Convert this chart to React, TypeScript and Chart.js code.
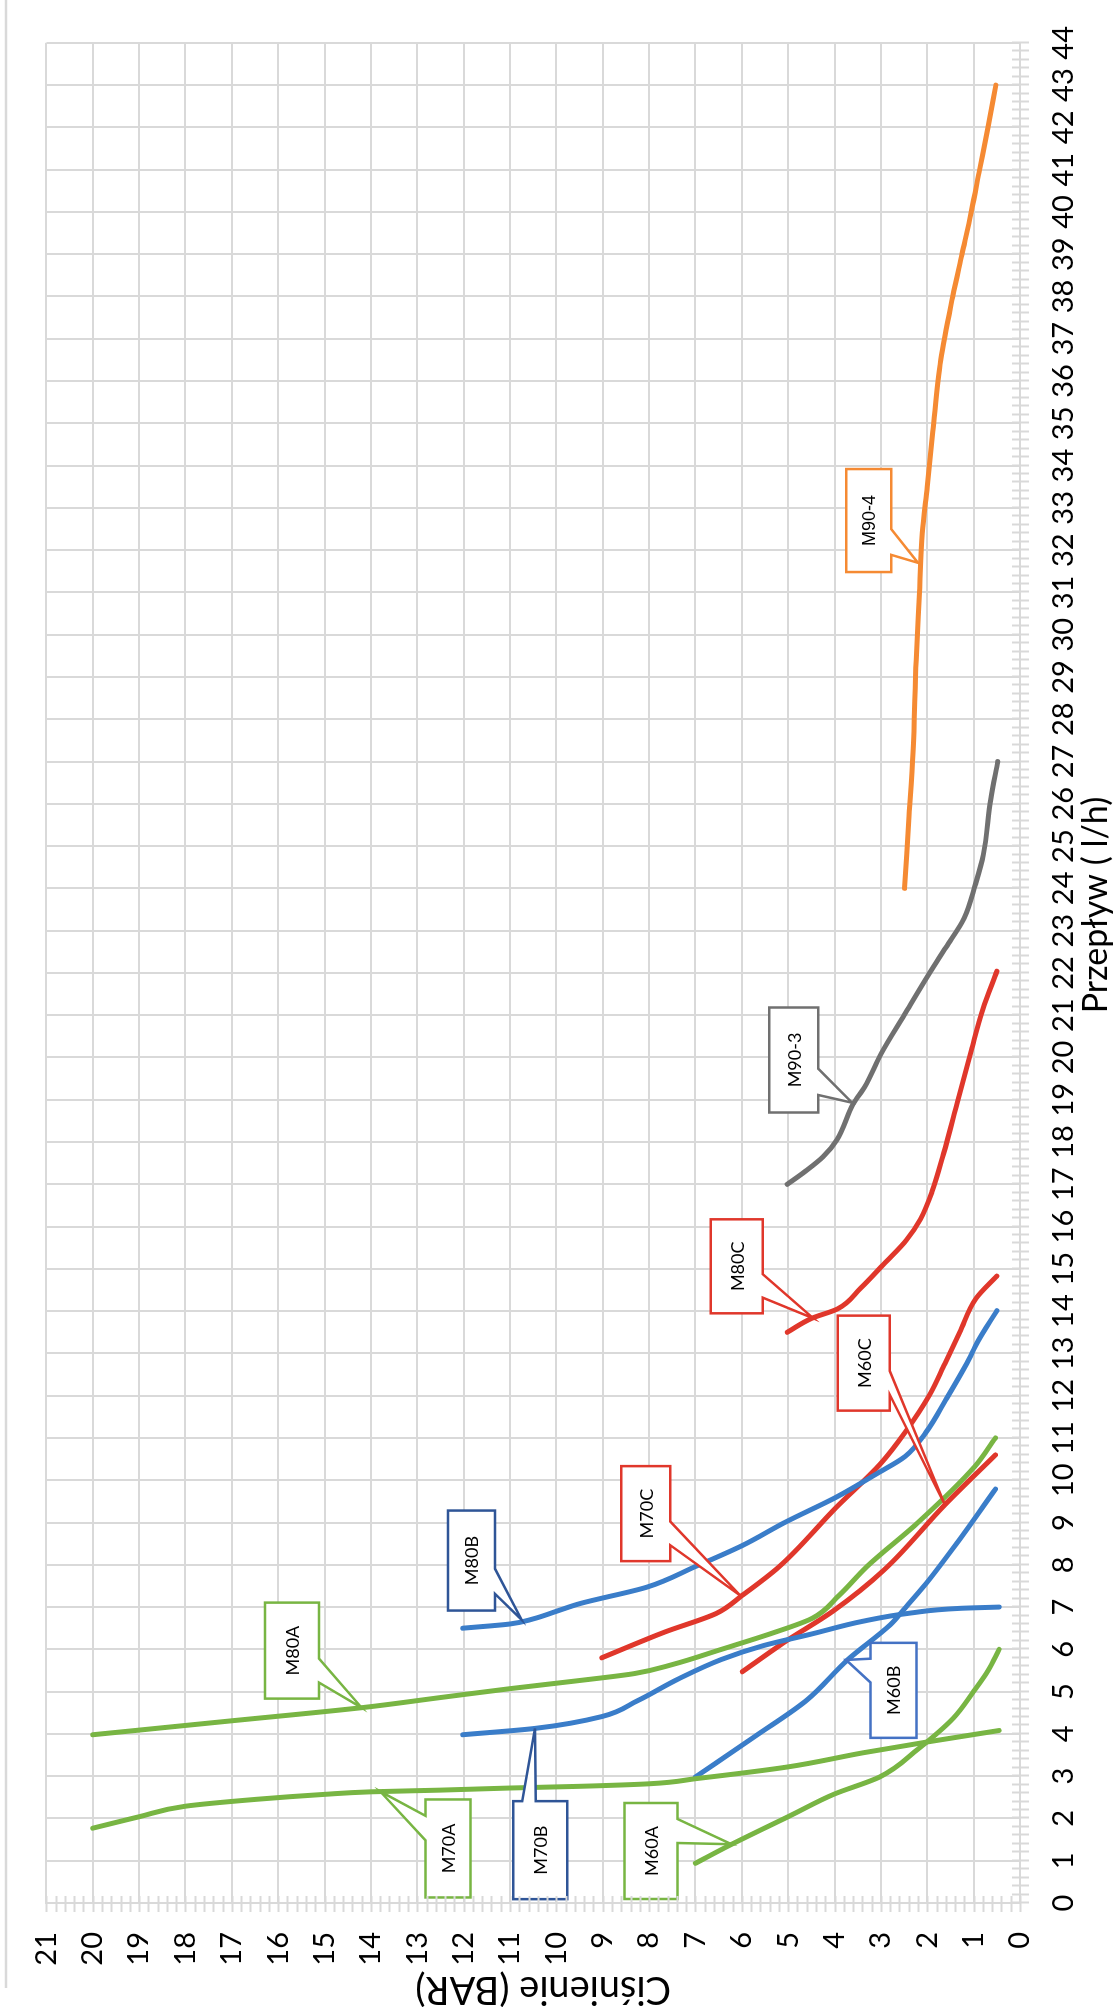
import React, { useEffect, useRef } from 'react';
import { Chart, registerables } from 'chart.js';

Chart.register(...registerables);

// ---------- axis ranges / ticks ----------
const FLOW_MIN = 0;
const FLOW_MAX = 44;
const PRES_MIN = 0;
const PRES_MAX = 21;
const X_TITLE = 'Przepływ ( l/h)';
const Y_TITLE = 'Ciśnienie (BAR)';

// ---------- series (flow l/h , pressure BAR) ----------
const M60A_FLOW = [0.94, 1.35, 2.08, 2.57, 2.98, 3.64, 4.37, 5.02, 5.51, 6.0];
const M60A_PRES = [7.0, 6.29, 4.93, 4.02, 3.03, 2.2, 1.44, 0.99, 0.68, 0.45];

const M70A_FLOW = [1.77, 2.04, 2.29, 2.45, 2.57, 2.63, 2.67, 2.72, 2.76, 2.82, 2.94, 3.22, 3.55, 3.8, 4.08];
const M70A_PRES = [20, 19, 18, 16.5, 15, 14, 12.5, 11, 9.5, 8, 7, 5, 3.4, 2.05, 0.45];

const M80A_FLOW = [3.98, 4.31, 4.62, 4.86, 5.07, 5.25, 5.43, 5.64, 6.0, 6.37, 6.74, 7.28, 7.96, 9.02, 10.32, 11.0];
const M80A_PRES = [20, 17, 14.2, 12.5, 11, 9.6, 8.3, 7.5, 6.44, 5.38, 4.47, 3.9, 3.3, 2.18, 0.98, 0.53];

const M60B_FLOW = [2.98, 3.96, 4.78, 5.76, 6.58, 6.95, 7.55, 8.53, 9.79];
const M60B_PRES = [7.0, 5.69, 4.62, 3.71, 2.8, 2.5, 2.03, 1.35, 0.53];

const M70B_FLOW = [3.98, 4.13, 4.41, 4.78, 5.31, 5.76, 6.09, 6.37, 6.66, 6.86, 6.97, 7.0];
const M70B_PRES = [12.02, 10.46, 9.02, 8.26, 7.35, 6.44, 5.53, 4.47, 3.41, 2.35, 1.29, 0.45];

const M80B_FLOW = [6.5, 6.6, 6.72, 6.9, 7.08, 7.47, 7.96, 8.45, 9.02, 9.59, 10.16, 10.56, 11.13, 11.94, 12.76, 13.3, 14.01];
const M80B_PRES = [12.02, 11.0, 10.5, 10.0, 9.5, 8.05, 7.0, 6.0, 5.04, 3.98, 3.08, 2.48, 2.03, 1.58, 1.15, 0.9, 0.5];

const M60C_FLOW = [5.47, 6.17, 6.9, 7.88, 9.42, 10.6];
const M60C_PRES = [5.99, 5.08, 4.04, 2.93, 1.62, 0.53];

const M70C_FLOW = [5.8, 6.41, 6.85, 7.27, 7.96, 9.34, 10.4, 11.13, 12.02, 12.76, 13.5, 14.3, 14.83];
const M70C_PRES = [9.02, 7.66, 6.55, 6.0, 5.19, 3.98, 3.0, 2.48, 1.95, 1.62, 1.3, 0.95, 0.5];

const M80C_FLOW = [13.5, 13.83, 14.05, 14.54, 15.11, 15.68, 16.17, 16.82, 17.72, 18.94, 20.17, 21.14, 22.04];
const M80C_PRES = [5.02, 4.49, 3.94, 3.44, 2.94, 2.45, 2.15, 1.9, 1.65, 1.35, 1.05, 0.8, 0.5];

const M903_FLOW = [17.0, 17.3, 17.65, 18.05, 18.9, 19.3, 20.1, 21.0, 22.0, 22.6, 23.3, 24.1, 24.8, 26.1, 27.0];
const M903_PRES = [5.02, 4.64, 4.25, 3.95, 3.6, 3.35, 2.99, 2.5, 1.95, 1.6, 1.2, 0.96, 0.79, 0.63, 0.48];

const M904_FLOW = [24.0, 25.6, 27.2, 29.4, 31.0, 32.4, 33.5, 34.8, 36.5, 38.0, 39.0, 40.0, 41.0, 42.0, 43.0];
const M904_PRES = [2.49, 2.4, 2.31, 2.24, 2.17, 2.11, 2.0, 1.88, 1.71, 1.45, 1.25, 1.05, 0.87, 0.69, 0.52];

// ---------- callout labels ----------
const CALLOUT_TEXT = ['M80A', 'M70A', 'M70B', 'M60A', 'M60B', 'M80B', 'M70C', 'M60C', 'M80C', 'M90-3', 'M90-4'];
const CALLOUT_FLOW = [5.97, 1.29, 1.25, 1.23, 5.03, 8.1, 9.21, 12.77, 15.06, 19.94, 32.7];
const CALLOUT_PRES = [15.7, 12.34, 10.35, 7.96, 2.73, 11.83, 8.07, 3.37, 6.11, 4.88, 3.26];
const CALLOUT_TIP_FLOW = [4.62, 2.64, 4.13, 1.39, 5.75, 6.7, 7.27, 9.42, 13.83, 18.93, 31.7];
const CALLOUT_TIP_PRES = [14.2, 13.8, 10.46, 6.22, 3.75, 10.75, 6.03, 1.62, 4.46, 3.62, 2.2];

// ---------- styles ----------
const GREEN = '#78b543';
const BLUE = '#3a7dc9';
const RED = '#e0372b';
const GRAY = '#707070';
const ORANGE = '#f58a33';
const DARK_BLUE = '#2f5597';
const MID_BLUE = '#4472c4';
const GRID = '#d9d9d9';
const CALLOUT_W = [96, 98, 98, 96, 95, 100, 95, 95, 94, 105, 103];
const CALLOUT_H = [54, 45, 54, 53, 46, 47, 49, 52, 52, 49, 45];
const CALLOUT_COLOR = [GREEN, GREEN, DARK_BLUE, GREEN, MID_BLUE, DARK_BLUE, RED, RED, RED, GRAY, ORANGE];
const CALLOUT_FONT = ['Lato', 'Lato', 'Lato', 'Lato', 'Lato', 'Lato', 'Lato', 'Lato', 'Lato', 'Lato', 'Liberation Sans'];

const W = 2010;
const H = 1120;

const SERIES = [
  { name: 'M60A', flow: M60A_FLOW, pres: M60A_PRES, color: GREEN },
  { name: 'M70A', flow: M70A_FLOW, pres: M70A_PRES, color: GREEN },
  { name: 'M80A', flow: M80A_FLOW, pres: M80A_PRES, color: GREEN },
  { name: 'M60B', flow: M60B_FLOW, pres: M60B_PRES, color: BLUE },
  { name: 'M70B', flow: M70B_FLOW, pres: M70B_PRES, color: BLUE },
  { name: 'M80B', flow: M80B_FLOW, pres: M80B_PRES, color: BLUE },
  { name: 'M60C', flow: M60C_FLOW, pres: M60C_PRES, color: RED },
  { name: 'M70C', flow: M70C_FLOW, pres: M70C_PRES, color: RED },
  { name: 'M80C', flow: M80C_FLOW, pres: M80C_PRES, color: RED },
  { name: 'M90-3', flow: M903_FLOW, pres: M903_PRES, color: GRAY },
  { name: 'M90-4', flow: M904_FLOW, pres: M904_PRES, color: ORANGE },
];

function drawCallout(ctx: CanvasRenderingContext2D, l: number, t: number, w: number, h: number, tipX: number, tipY: number) {
  const r = l + w;
  const b = t + h;
  const hc = l + w / 2;
  const vc = t + h / 2;
  const dxPos = tipX - hc;
  const dyPos = tipY - vc;
  const dq = (dxPos * h) / w;
  const dz = Math.abs(dyPos) - Math.abs(dq);
  const x1 = l + (w * (dxPos > 0 ? 7 : 2)) / 12;
  const x2 = l + (w * (dxPos > 0 ? 10 : 5)) / 12;
  const y1 = t + (h * (dyPos > 0 ? 7 : 2)) / 12;
  const y2 = t + (h * (dyPos > 0 ? 10 : 5)) / 12;
  ctx.beginPath();
  ctx.moveTo(l, t);
  if (dz > 0 && dyPos < 0) {
    ctx.lineTo(x1, t);
    ctx.lineTo(tipX, tipY);
    ctx.lineTo(x2, t);
  }
  ctx.lineTo(r, t);
  if (dz <= 0 && dxPos > 0) {
    ctx.lineTo(r, y1);
    ctx.lineTo(tipX, tipY);
    ctx.lineTo(r, y2);
  }
  ctx.lineTo(r, b);
  if (dz > 0 && dyPos > 0) {
    ctx.lineTo(x2, b);
    ctx.lineTo(tipX, tipY);
    ctx.lineTo(x1, b);
  }
  ctx.lineTo(l, b);
  if (dz <= 0 && dxPos < 0) {
    ctx.lineTo(l, y2);
    ctx.lineTo(tipX, tipY);
    ctx.lineTo(l, y1);
  }
  ctx.closePath();
}

const extrasPlugin = {
  id: 'extras',
  afterDatasetsDraw(chart: any) {
    const { ctx } = chart;
    const xs = chart.scales.x;
    const ys = chart.scales.y;
    ctx.save();
    for (let i = 0; i < CALLOUT_TEXT.length; i++) {
      const cx = xs.getPixelForValue(CALLOUT_FLOW[i]);
      const cy = ys.getPixelForValue(CALLOUT_PRES[i]);
      const w = CALLOUT_W[i];
      const h = CALLOUT_H[i];
      const tx = xs.getPixelForValue(CALLOUT_TIP_FLOW[i]);
      const ty = ys.getPixelForValue(CALLOUT_TIP_PRES[i]);
      drawCallout(ctx, cx - w / 2, cy - h / 2, w, h, tx, ty);
      ctx.fillStyle = '#ffffff';
      ctx.fill();
      ctx.lineWidth = 2.5;
      ctx.lineJoin = 'miter';
      ctx.strokeStyle = CALLOUT_COLOR[i];
      ctx.stroke();
      ctx.fillStyle = '#000000';
      ctx.font = `18px "${CALLOUT_FONT[i]}"`;
      ctx.textAlign = 'center';
      ctx.textBaseline = 'middle';
      ctx.fillText(CALLOUT_TEXT[i], cx, cy + 1);
    }
    ctx.restore();
  },
  afterDraw(chart: any) {
    const { ctx, chartArea } = chart;
    const xs = chart.scales.x;
    const ys = chart.scales.y;
    ctx.save();
    ctx.strokeStyle = GRID;
    ctx.lineWidth = 2;
    // cross tick marks on flow axis (every 0.2)
    const axY = chartArea.bottom;
    for (let k = 0; k <= (FLOW_MAX - FLOW_MIN) * 5; k++) {
      const px = Math.round(xs.getPixelForValue(FLOW_MIN + k * 0.2)) + 0.5;
      ctx.beginPath();
      ctx.moveTo(px, axY - 8);
      ctx.lineTo(px, axY + 9);
      ctx.stroke();
    }
    // cross tick marks on pressure axis (every 0.2)
    const axX = chartArea.left;
    for (let k = 0; k <= (PRES_MAX - PRES_MIN) * 5; k++) {
      const py = Math.round(ys.getPixelForValue(PRES_MIN + k * 0.2)) + 0.5;
      ctx.beginPath();
      ctx.moveTo(axX - 9, py);
      ctx.lineTo(axX + 7, py);
      ctx.stroke();
    }
    // chart frame edge
    ctx.lineWidth = 2.5;
    ctx.beginPath();
    ctx.moveTo(22, 6);
    ctx.lineTo(W, 6);
    ctx.stroke();
    // axis titles
    ctx.fillStyle = '#000000';
    ctx.textAlign = 'center';
    ctx.textBaseline = 'middle';
    ctx.font = '34px Lato';
    ctx.fillText(X_TITLE, 1105, 1096);
    ctx.font = '38px Lato';
    ctx.translate(21, (chartArea.top + chartArea.bottom) / 2 + 10);
    ctx.rotate(-Math.PI / 2);
    ctx.fillText(Y_TITLE, 0, 0);
    ctx.restore();
  },
};

export default function App() {
  const canvasRef = useRef<HTMLCanvasElement | null>(null);

  useEffect(() => {
    document.body.style.overflow = 'hidden';
    const canvas = canvasRef.current;
    if (!canvas) return;
    const datasets = SERIES.map((s) => ({
      label: s.name,
      data: s.flow.map((f, i) => ({ x: f, y: s.pres[i] })),
      borderColor: s.color,
      backgroundColor: s.color,
      borderWidth: 5,
      showLine: true,
      pointRadius: 0,
      pointHoverRadius: 0,
      cubicInterpolationMode: 'monotone' as const,
      borderCapStyle: 'round' as const,
      borderJoinStyle: 'round' as const,
      fill: false,
    }));
    const chart = new Chart(canvas, {
      type: 'scatter',
      data: { datasets },
      options: {
        animation: false,
        responsive: false,
        devicePixelRatio: 1,
        layout: { padding: { top: 28, right: 18, left: 0, bottom: 0 }, autoPadding: false },
        plugins: { legend: { display: false }, tooltip: { enabled: false } },
        scales: {
          x: {
            type: 'linear',
            position: 'bottom',
            min: FLOW_MIN,
            max: FLOW_MAX,
            afterFit: (s: any) => {
              s.height = 100;
            },
            grid: { color: GRID, lineWidth: 2, drawTicks: false },
            border: { color: GRID, width: 2 },
            ticks: {
              stepSize: 1,
              autoSkip: false,
              maxRotation: 0,
              minRotation: 0,
              padding: 26,
              color: '#000000',
              font: { size: 29, family: 'Lato' },
            },
          },
          y: {
            type: 'linear',
            position: 'left',
            min: PRES_MIN,
            max: PRES_MAX,
            afterFit: (s: any) => {
              s.width = 107;
            },
            grid: { color: GRID, lineWidth: 2, drawTicks: false },
            border: { color: GRID, width: 2 },
            ticks: {
              stepSize: 1,
              autoSkip: false,
              padding: 29,
              color: '#000000',
              font: { size: 29, family: 'Lato' },
            },
          },
        },
      },
      plugins: [extrasPlugin],
    });
    return () => {
      chart.destroy();
    };
  }, []);

  return (
    <div
      style={{
        position: 'absolute',
        left: 0,
        top: 0,
        width: W,
        height: H,
        transformOrigin: '0 0',
        transform: `translateY(${W}px) rotate(-90deg)`,
        background: '#ffffff',
      }}
    >
      <canvas ref={canvasRef} width={W} height={H} style={{ display: 'block', width: W, height: H }} />
    </div>
  );
}
